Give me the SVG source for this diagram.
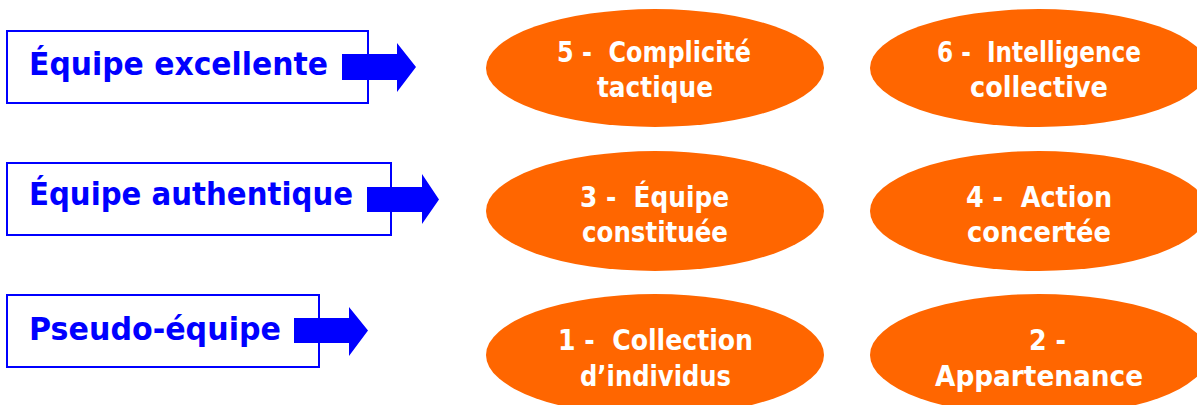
<svg xmlns="http://www.w3.org/2000/svg" width="1197" height="405" viewBox="0 0 1197 405">
<style>
.box{fill:#fff;stroke:#0000ff;stroke-width:2}
.lbl{font-family:"DejaVu Sans","Liberation Sans",sans-serif;font-weight:bold;font-size:32px;fill:#0000ff}
.ell{fill:#ff6600}
.et{font-family:"DejaVu Sans","Liberation Sans",sans-serif;font-weight:bold;font-size:28px;fill:#ffffff}
.arr{fill:#0000ff}
</style>
<rect width="1197" height="405" fill="#ffffff"/>
<g id="box-excellente">
<rect class="box" x="7" y="31" width="361" height="72"/>
<text class="lbl" x="29" y="75" textLength="299" lengthAdjust="spacingAndGlyphs">Équipe excellente</text>
</g>
<g id="box-authentique">
<rect class="box" x="7" y="163" width="384" height="72"/>
<text class="lbl" x="29" y="205" textLength="324" lengthAdjust="spacingAndGlyphs">Équipe authentique</text>
</g>
<g id="box-pseudo">
<rect class="box" x="7" y="295" width="312" height="72"/>
<text class="lbl" x="29" y="340" textLength="252" lengthAdjust="spacingAndGlyphs">Pseudo-équipe</text>
</g>
<g id="connectors">
<path class="arr" d="M342,54 H397 V43 L416,67 L397,92 V80 H342 Z"/>
<path class="arr" d="M367,187 H422 V174 L439,199.5 L422,224 V212 H367 Z"/>
<path class="arr" d="M294,318 H349 V307 L368,330.5 L349,356 V343 H294 Z"/>
</g>
<g id="e5">
<ellipse class="ell" cx="655" cy="68" rx="169" ry="59"/>
<text class="et" xml:space="preserve" x="557" y="62" textLength="194" lengthAdjust="spacingAndGlyphs">5 -  Complicité</text>
<text class="et" x="597" y="97" textLength="116" lengthAdjust="spacingAndGlyphs">tactique</text>
</g>
<g id="e6">
<ellipse class="ell" cx="1039" cy="68" rx="169" ry="59"/>
<text class="et" xml:space="preserve" x="937" y="62" textLength="204" lengthAdjust="spacingAndGlyphs">6 -  Intelligence</text>
<text class="et" x="970" y="97" textLength="138" lengthAdjust="spacingAndGlyphs">collective</text>
</g>
<g id="e3">
<ellipse class="ell" cx="655" cy="211" rx="169" ry="60"/>
<text class="et" xml:space="preserve" x="580" y="207" textLength="149" lengthAdjust="spacingAndGlyphs">3 -  Équipe</text>
<text class="et" x="582" y="242" textLength="146" lengthAdjust="spacingAndGlyphs">constituée</text>
</g>
<g id="e4">
<ellipse class="ell" cx="1039" cy="211" rx="169" ry="60"/>
<text class="et" xml:space="preserve" x="966" y="207" textLength="146" lengthAdjust="spacingAndGlyphs">4 -  Action</text>
<text class="et" x="967" y="242" textLength="144" lengthAdjust="spacingAndGlyphs">concertée</text>
</g>
<g id="e1">
<ellipse class="ell" cx="655" cy="355" rx="169" ry="61"/>
<text class="et" xml:space="preserve" x="558" y="350" textLength="195" lengthAdjust="spacingAndGlyphs">1 -  Collection</text>
<text class="et" x="580" y="386" textLength="151" lengthAdjust="spacingAndGlyphs">d’individus</text>
</g>
<g id="e2">
<ellipse class="ell" cx="1039" cy="355" rx="169" ry="61"/>
<text class="et" x="1029" y="350" textLength="37" lengthAdjust="spacingAndGlyphs">2 -</text>
<text class="et" x="935" y="386" textLength="208" lengthAdjust="spacingAndGlyphs">Appartenance</text>
</g>
</svg>
